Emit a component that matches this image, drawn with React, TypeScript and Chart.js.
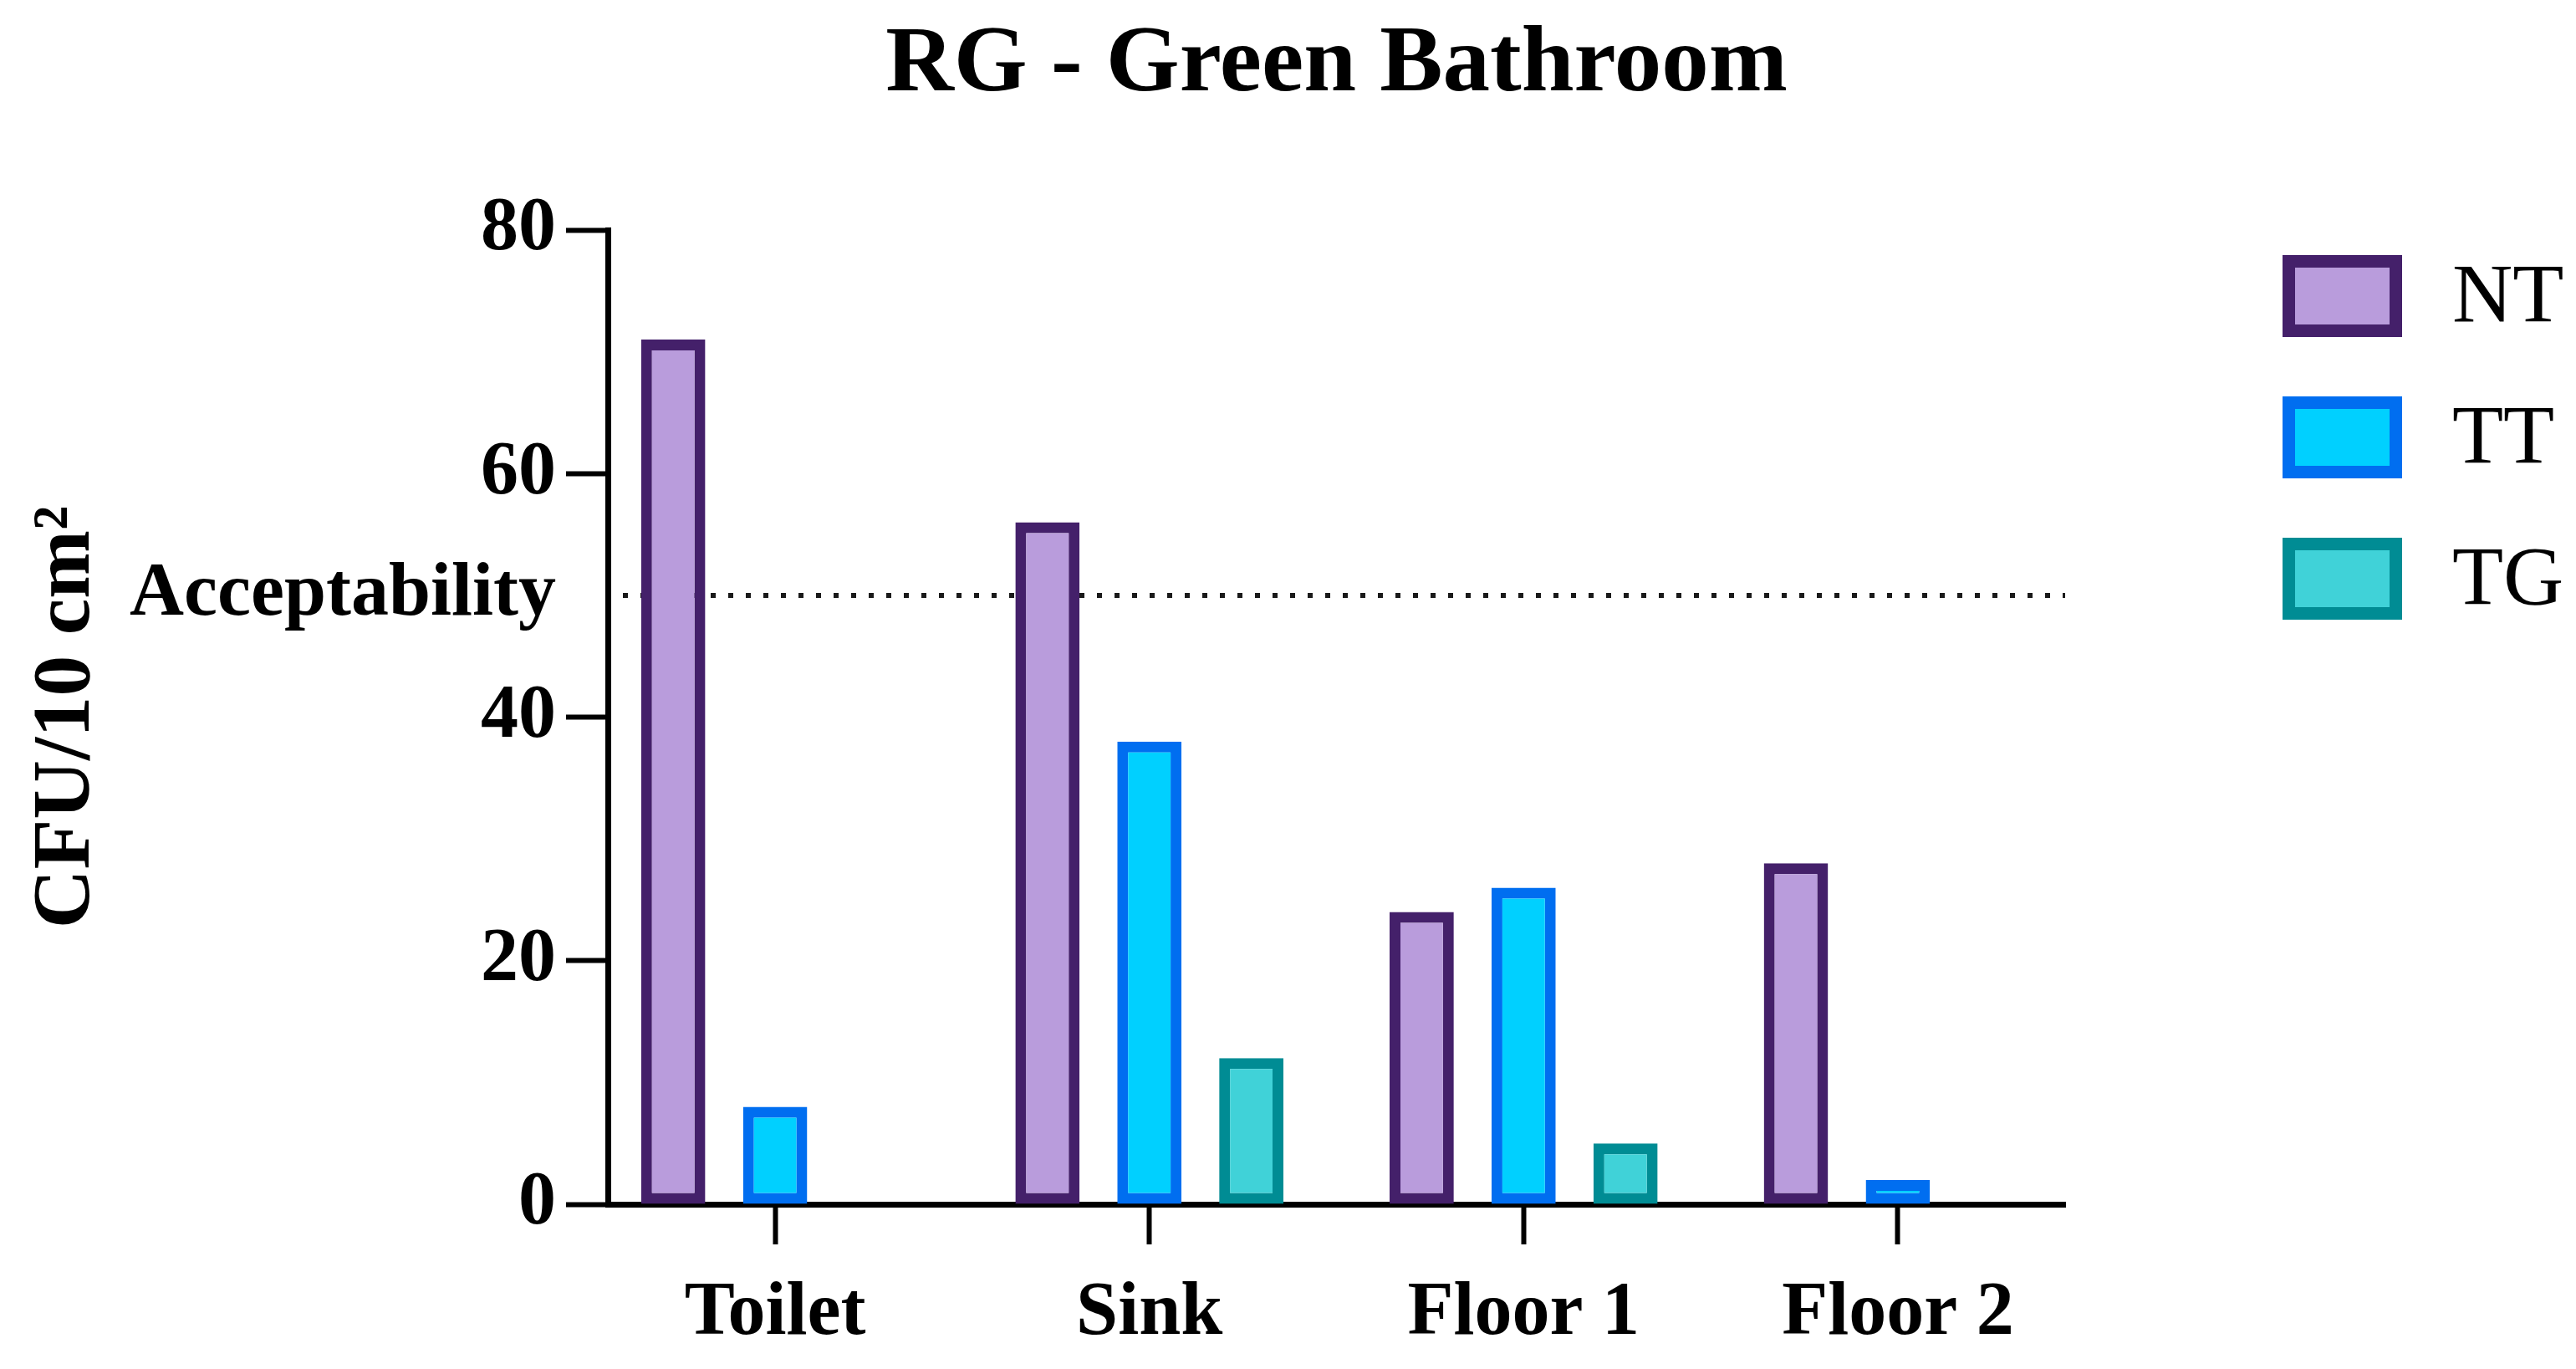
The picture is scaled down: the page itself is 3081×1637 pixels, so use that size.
import React, { useEffect, useRef } from 'react';
import { Chart, registerables } from 'chart.js';

Chart.register(...registerables);

// ---------- data ----------
const CHART_TITLE = 'RG - Green Bathroom';
const Y_AXIS_TITLE = 'CFU/10 cm²';
const CATEGORIES = ['Toilet', 'Sink', 'Floor 1', 'Floor 2'];
const SERIES_NAMES = ['NT', 'TT', 'TG'];
const NT_VALUES = [71, 56, 24, 28];
const TT_VALUES = [8, 38, 26, 2];
const TG_VALUES = [0, 12, 5, 0];
const Y_TICKS = [0, 20, 40, 50, 60, 80];
const ACCEPTABILITY_VALUE = 50;
const ACCEPTABILITY_LABEL = 'Acceptability';

// ---------- styles ----------
const FILL_COLORS = ['#B99CDC', '#00D0FF', '#40D2D8'];
const BORDER_COLORS = ['#44206A', '#006EF0', '#008C94'];
const FONT_FAMILY = '"Liberation Serif", "Times New Roman", serif';
const W = 3081;
const H = 1637;

const SERIES_VALUES = [NT_VALUES, TT_VALUES, TG_VALUES];

const refLinePlugin = {
  id: 'refLine',
  beforeDatasetsDraw(chart: any) {
    const { ctx, chartArea, scales } = chart;
    const y = scales.y.getPixelForValue(ACCEPTABILITY_VALUE);
    ctx.save();
    ctx.strokeStyle = '#1a1a1a';
    ctx.lineWidth = 6;
    ctx.setLineDash([6, 15]);
    ctx.beginPath();
    ctx.moveTo(chartArea.left + 18, y);
    ctx.lineTo(chartArea.right, y);
    ctx.stroke();
    ctx.restore();
  },
};

const titlePlugin = {
  id: 'centeredTitle',
  afterDraw(chart: any) {
    const { ctx, chartArea } = chart;
    ctx.save();
    ctx.font = `bold 113px ${FONT_FAMILY}`;
    ctx.fillStyle = '#000';
    ctx.textAlign = 'center';
    ctx.textBaseline = 'alphabetic';
    ctx.fillText(CHART_TITLE, (chartArea.left + chartArea.right) / 2, 108);
    ctx.restore();
  },
};

const legendPlugin = {
  id: 'sideLegend',
  afterDraw(chart: any) {
    const { ctx } = chart;
    const boxX = 2730;
    const boxW = 143;
    const boxH = 98;
    const firstTop = 305;
    const step = 169;
    const bw = 15;
    ctx.save();
    chart.data.datasets.forEach((ds: any, i: number) => {
      const top = firstTop + i * step;
      ctx.fillStyle = ds.borderColor;
      ctx.fillRect(boxX, top, boxW, boxH);
      ctx.fillStyle = ds.backgroundColor;
      ctx.fillRect(boxX + bw, top + bw, boxW - 2 * bw, boxH - 2 * bw);
      ctx.fillStyle = '#000';
      ctx.font = `100px ${FONT_FAMILY}`;
      ctx.textAlign = 'left';
      ctx.textBaseline = 'middle';
      ctx.fillText(ds.label, 2933, top + boxH / 2 + 4);
    });
    ctx.restore();
  },
};

export default function App() {
  const canvasRef = useRef<HTMLCanvasElement | null>(null);

  useEffect(() => {
    const canvas = canvasRef.current;
    if (!canvas) return;
    const tickFont = { family: FONT_FAMILY, size: 90, weight: 'bold' as const };

    const chart = new Chart(canvas, {
      type: 'bar',
      data: {
        datasets: SERIES_NAMES.map((name, s) => ({
          label: name,
          data: SERIES_VALUES[s].map((v, i) => ({ x: i, y: v })),
          backgroundColor: FILL_COLORS[s],
          borderColor: BORDER_COLORS[s],
          borderWidth: 13,
          borderSkipped: false,
          categoryPercentage: 0.817,
          barPercentage: 0.63,
        })),
      },
      options: {
        animation: false,
        responsive: false,
        devicePixelRatio: 1,
        events: [],
        layout: { padding: { left: 10, right: W - 2470, top: 275, bottom: 0 } },
        plugins: {
          legend: { display: false },
          title: { display: false },
          tooltip: { enabled: false },
        },
        scales: {
          x: {
            type: 'linear',
            min: -0.447,
            max: 3.447,
            offset: false,
            z: 1,
            afterBuildTicks: (s: any) => {
              s.ticks = CATEGORIES.map((_, i) => ({ value: i }));
            },
            afterFit: (s: any) => {
              s.height = H - 1440;
            },
            ticks: {
              callback: (v: any) => CATEGORIES[Math.round(Number(v))] ?? '',
              font: tickFont,
              color: '#000',
              padding: 30,
              maxRotation: 0,
              autoSkip: false,
            },
            grid: {
              display: true,
              offset: false,
              drawOnChartArea: false,
              drawTicks: true,
              tickLength: 48,
              tickWidth: 6,
              tickColor: '#000',
            },
            border: { display: true, color: '#000', width: 7 },
          },
          y: {
            type: 'linear',
            min: 0,
            max: 80,
            z: 1,
            afterBuildTicks: (s: any) => {
              s.ticks = Y_TICKS.map((v) => ({ value: v }));
            },
            afterFit: (s: any) => {
              s.width = 727 - 10;
            },
            ticks: {
              callback: (v: any) => (v === ACCEPTABILITY_VALUE ? ACCEPTABILITY_LABEL : String(v)),
              font: tickFont,
              color: '#000',
              padding: 12,
            },
            grid: {
              display: true,
              offset: false,
              drawOnChartArea: false,
              drawTicks: true,
              tickLength: 50,
              tickWidth: 6,
              tickColor: (ctx: any) =>
                ctx.tick && ctx.tick.value === ACCEPTABILITY_VALUE ? 'rgba(0,0,0,0)' : '#000',
            },
            border: { display: true, color: '#000', width: 7 },
            title: {
              display: true,
              text: Y_AXIS_TITLE,
              font: { family: FONT_FAMILY, size: 98, weight: 'bold' },
              color: '#000',
              padding: { top: 12, bottom: 0 },
            },
          },
        },
      },
      plugins: [refLinePlugin, titlePlugin, legendPlugin],
    } as any);

    return () => chart.destroy();
  }, []);

  return (
    <div style={{ position: 'absolute', left: 0, top: 0, width: W, height: H, background: '#fff' }}>
      <canvas ref={canvasRef} width={W} height={H} style={{ display: 'block', width: W, height: H }} />
    </div>
  );
}
